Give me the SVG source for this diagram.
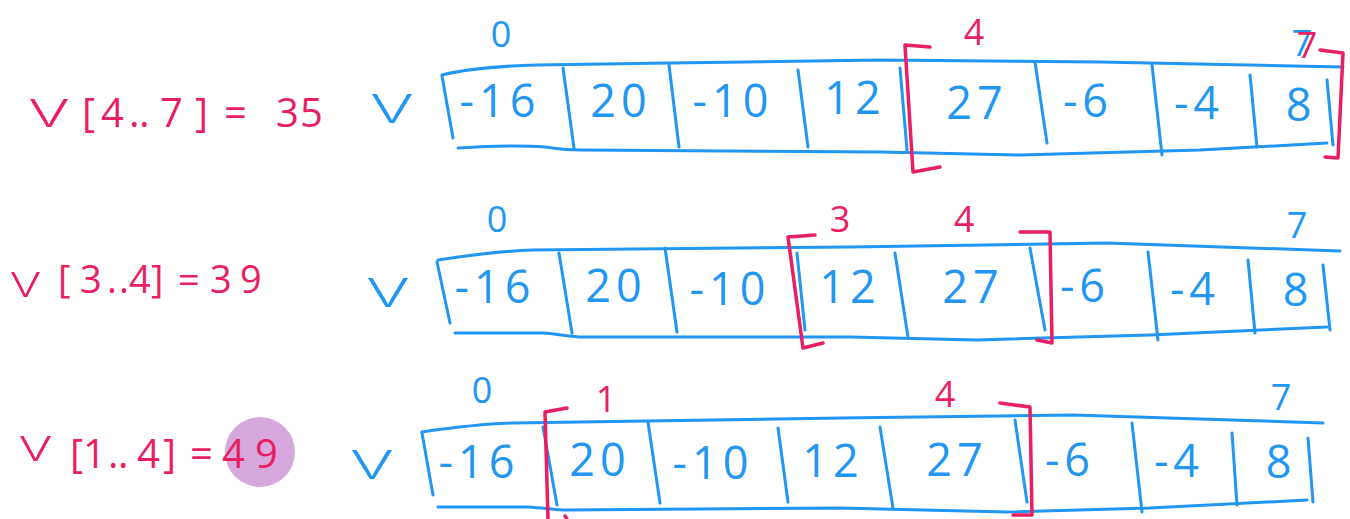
<svg xmlns="http://www.w3.org/2000/svg" width="1350" height="519" viewBox="0 0 1350 519">
<style>
.bl{fill:none;stroke:#2196F3;stroke-width:3;stroke-linecap:round;stroke-linejoin:round}
.rd{fill:none;stroke:#E91E63;stroke-width:3.5;stroke-linecap:round;stroke-linejoin:round}
.num{font-family:"Open Sans","Liberation Sans",sans-serif;font-weight:400;font-size:45px;fill:#2196F3;text-anchor:middle;letter-spacing:5px}
.idx{font-family:"Open Sans","Liberation Sans",sans-serif;font-weight:400;font-size:36px;text-anchor:middle}
.ib{fill:#2196F3}
.ir{fill:#E91E63}
.lab{font-family:"Open Sans","Liberation Sans",sans-serif;font-weight:400;font-size:40px;fill:#E91E63}
.vb{font-family:"Open Sans","Liberation Sans",sans-serif;font-weight:300;font-size:56px;fill:#2196F3}
.vr{font-family:"Open Sans","Liberation Sans",sans-serif;font-weight:300;font-size:54px;fill:#E91E63}
</style>
<rect width="1350" height="519" fill="#ffffff"/>

<!-- Row 1 -->
<g id="row1-label">
<text class="vr" x="30" y="127" textLength="38" lengthAdjust="spacingAndGlyphs">v</text>
<text class="lab" x="82 101 129 139 160 195 210 224 240 276 300" y="127">[4..7] = 35</text>
</g>
<g id="row1-array">
<text class="vb" x="372" y="123" textLength="40" lengthAdjust="spacingAndGlyphs">v</text>
<path class="bl" d="M442,75 C470,68 500,66 537,65 L670,63 L880,60 L1100,62 L1343,67"/>
<path class="bl" d="M458,148 C490,146 520,145 545,147 C560,149 565,150 580,150 L880,152 L1020,155 L1200,150 L1327,143"/>
<path class="bl" d="M442,76 L453,138"/>
<path class="bl" d="M563,68 L574,148 M669,65 L679,147 M798,70 L808,147 M900,68 L907,150 M1035,62 L1047,143 M1152,65 L1162,155 M1250,75 L1257,147 M1327,80 L1333,145"/>
<text class="num" x="500" y="117">-16</text>
<text class="num" x="621" y="117">20</text>
<text class="num" x="733" y="117">-10</text>
<text class="num" x="855" y="114">12</text>
<text class="num" x="977" y="119">27</text>
<text class="num" x="1088" y="117">-6</text>
<text class="num" x="1199" y="119">-4</text>
<text class="num" x="1301" y="121">8</text>
<text class="idx ib" x="501" y="47">0</text>
<text class="idx ib" x="1302" y="56">7</text>
</g>
<g id="row1-range">
<text class="idx ir" x="974" y="45">4</text>
<text class="idx ir" x="1307" y="58">7</text>
<path class="rd" d="M930,47 L905,45 L913,172 L940,167"/>
<path class="rd" d="M1320,50 L1343,53 L1338,158 L1325,157"/>
</g>

<!-- Row 2 -->
<g id="row2-label">
<text class="vr" x="11" y="297" textLength="29" lengthAdjust="spacingAndGlyphs" style="font-size:46px">v</text>
<text class="lab" x="58 80 107 119 129 151 166 178 195 210 240" y="293" style="font-size:38px">[3..4] = 39</text>
</g>
<g id="row2-array">
<text class="vb" x="368" y="307" textLength="40" lengthAdjust="spacingAndGlyphs">v</text>
<path class="bl" d="M438,260 C470,255 500,251 533,250 L850,247 L1107,243 L1340,251"/>
<path class="bl" d="M455,333 L543,333 C560,334 570,337 583,337 L850,337 L977,340 L1150,335 L1327,327"/>
<path class="bl" d="M437,262 L450,323"/>
<path class="bl" d="M559,253 L572,333 M665,248 L677,332 M797,253 L805,330 M895,253 L908,337 M1030,248 L1045,330 M1148,252 L1158,340 M1248,260 L1255,333 M1323,265 L1330,330"/>
<text class="num" x="495" y="303">-16</text>
<text class="num" x="616" y="302">20</text>
<text class="num" x="730" y="305">-10</text>
<text class="num" x="850" y="303">12</text>
<text class="num" x="973" y="303">27</text>
<text class="num" x="1085" y="302">-6</text>
<text class="num" x="1195" y="305">-4</text>
<text class="num" x="1298" y="306">8</text>
<text class="idx ib" x="497" y="232">0</text>
<text class="idx ib" x="1297" y="238">7</text>
</g>
<g id="row2-range">
<text class="idx ir" x="840" y="232">3</text>
<text class="idx ir" x="964" y="232">4</text>
<path class="rd" d="M815,235 L788,237 L803,348 L823,343"/>
<path class="rd" d="M1020,232 L1050,232 L1052,343 L1037,340"/>
</g>

<!-- Row 3 -->
<g id="row3-label">
<circle cx="260" cy="452" r="35" fill="#D7A8DE"/>
<text class="vr" x="20" y="461" textLength="31" lengthAdjust="spacingAndGlyphs" style="font-size:46px">v</text>
<text class="lab" x="70 83 108 118 137 163 178 190 205 222 255" y="468">[1..4] = 49</text>
</g>
<g id="row3-array">
<text class="vb" x="352" y="479" textLength="40" lengthAdjust="spacingAndGlyphs">v</text>
<path class="bl" d="M422,432 C450,428 480,424 513,423 L840,418 L1073,415 L1323,423"/>
<path class="bl" d="M438,507 L527,507 C545,508 555,510 567,510 L840,508 L1007,512 L1150,508 L1307,500"/>
<path class="bl" d="M422,433 L433,495"/>
<path class="bl" d="M543,427 L557,505 M648,422 L660,503 M778,428 L788,502 M880,427 L893,508 M1015,420 L1027,502 M1132,423 L1142,512 M1232,433 L1237,505 M1308,438 L1313,502"/>
<text class="num" x="479" y="478">-16</text>
<text class="num" x="600" y="476">20</text>
<text class="num" x="713" y="479">-10</text>
<text class="num" x="833" y="477">12</text>
<text class="num" x="957" y="476">27</text>
<text class="num" x="1070" y="476">-6</text>
<text class="num" x="1179" y="477">-4</text>
<text class="num" x="1281" y="478">8</text>
<text class="idx ib" x="482" y="403">0</text>
<text class="idx ib" x="1281" y="410">7</text>
</g>
<g id="row3-range">
<text class="idx ir" x="606" y="412">1</text>
<text class="idx ir" x="945" y="407">4</text>
<path class="rd" d="M567,408 L545,412 L548,519 M565,516 L567,519"/>
<path class="rd" d="M1000,403 L1030,407 L1032,515 L1013,515"/>
</g>
</svg>
